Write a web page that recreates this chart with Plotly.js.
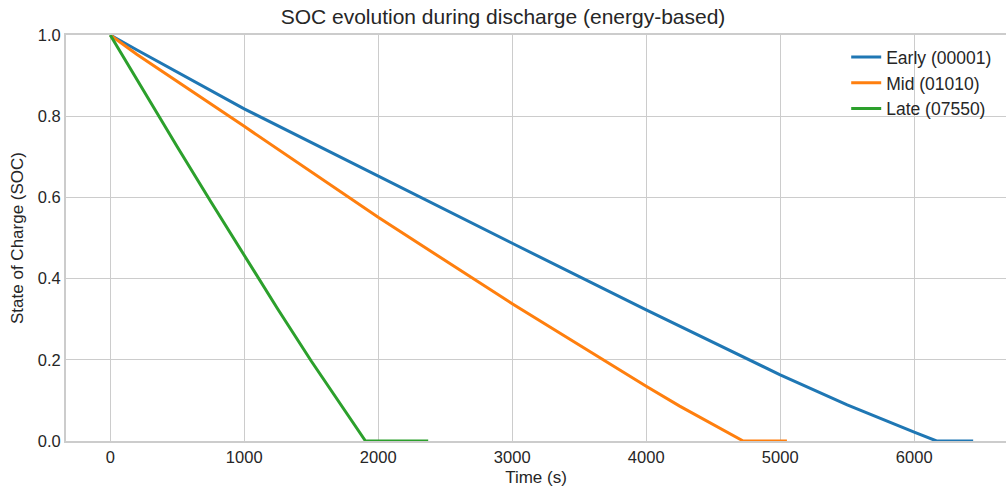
<!DOCTYPE html>
<html>
<head>
<meta charset="utf-8">
<script src="https://cdn.plot.ly/plotly-3.0.1.min.js"></script>
<style>html,body{margin:0;padding:0;background:#fff;}#chart{width:1006px;height:489px;}</style>
</head>
<body>
<div id="chart"></div>
<script>
// Time (s) and SOC values
const earlyTime = [0, 200, 1000, 2000, 3000, 4000, 5000, 5500, 5800, 6000, 6167, 6440];
const earlySOC  = [1.0, 0.963, 0.818, 0.652, 0.487, 0.323, 0.163, 0.089, 0.048, 0.022, 0.0, 0.0];

const midTime = [0, 200, 1000, 2000, 3000, 3500, 4000, 4250, 4500, 4724, 5050];
const midSOC  = [1.0, 0.952, 0.775, 0.551, 0.338, 0.236, 0.135, 0.086, 0.041, 0.0, 0.0];

const lateTime = [0, 250, 500, 750, 1000, 1250, 1500, 1750, 1905, 2373];
const lateSOC  = [1.0, 0.862, 0.725, 0.590, 0.456, 0.325, 0.197, 0.074, 0.0, 0.0];

const seriesNames = ["Early (00001)", "Mid (01010)", "Late (07550)"];
const seriesColors = ["#1f77b4", "#ff7f0e", "#2ca02c"];

const xTicks = [0, 1000, 2000, 3000, 4000, 5000, 6000];
const yTicks = [0.0, 0.2, 0.4, 0.6, 0.8, 1.0];

const font = "Liberation Sans, Arial, sans-serif";
const txt = "#262626";

const data = [
  {x: earlyTime, y: earlySOC, name: seriesNames[0]},
  {x: midTime, y: midSOC, name: seriesNames[1]},
  {x: lateTime, y: lateSOC, name: seriesNames[2]}
].map((t, i) => Object.assign(t, {
  type: "scatter", mode: "lines",
  line: {color: seriesColors[i], width: 3}
}));

const layout = {
  width: 1006, height: 489,
  margin: {l: 66, r: 0, t: 35, b: 48},
  paper_bgcolor: "#fff", plot_bgcolor: "#fff",
  font: {family: font, color: txt, size: 16},
  title: {text: "SOC evolution during discharge (energy-based)", font: {size: 21, color: txt, family: font}, x: 0.5, xanchor: "center", y: 0.965, yanchor: "middle"},
  xaxis: {
    range: [-330, 6685], tickvals: xTicks, tickformat: "d",
    showgrid: true, gridcolor: "#cccccc", gridwidth: 1.3,
    showline: true, mirror: true, linecolor: "#cccccc", linewidth: 2,
    zeroline: false, ticks: "", tickfont: {size: 16.5, color: txt},
    title: {text: "Time (s)", font: {size: 17, color: txt}, standoff: 6}
  },
  yaxis: {
    range: [0, 1], tickvals: yTicks, tickformat: ".1f",
    showgrid: true, gridcolor: "#cccccc", gridwidth: 1.3,
    showline: true, mirror: true, linecolor: "#cccccc", linewidth: 2,
    zeroline: false, ticks: "", tickfont: {size: 16.5, color: txt},
    title: {text: "State of Charge (SOC)", font: {size: 17, color: txt}, standoff: 10}
  },
  legend: {x: 0.83, xanchor: "left", y: 0.99, yanchor: "top", bgcolor: "rgba(255,255,255,0)", borderwidth: 0, tracegroupgap: 0, font: {size: 17.5, color: txt}},
  showlegend: true
};

Plotly.newPlot("chart", data, layout, {displayModeBar: false, staticPlot: true});
</script>
</body>
</html>
